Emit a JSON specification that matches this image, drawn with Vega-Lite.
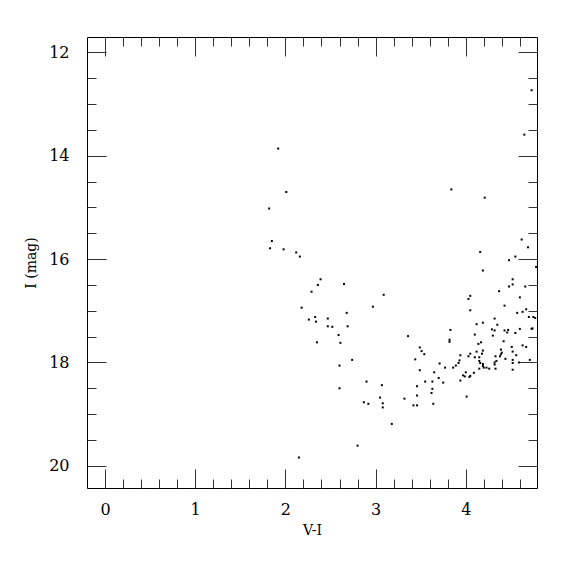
{
  "$schema": "https://vega.github.io/schema/vega-lite/v6.json",
  "width": 450,
  "height": 451,
  "autosize": {"type": "none"},
  "padding": {"left": 87, "top": 37, "right": 38, "bottom": 87},
  "background": "white",
  "config": {
    "view": {"stroke": "#000000", "strokeWidth": 1},
    "axis": {
      "labelFont": "DejaVu Serif",
      "titleFont": "DejaVu Serif",
      "labelColor": "#000000",
      "titleColor": "#000000",
      "tickColor": "#333333",
      "tickWidth": 1,
      "domain": false,
      "grid": false,
      "labelFontSize": 16,
      "titleFontSize": 14,
      "titleFontWeight": "normal"
    }
  },
  "datasets": {
    "stars": [
      {"vi": 1.92, "imag": 13.86}, {"vi": 2.01, "imag": 14.70}, {"vi": 1.82, "imag": 15.02}, {"vi": 1.85, "imag": 15.65},
      {"vi": 1.83, "imag": 15.79}, {"vi": 1.98, "imag": 15.81}, {"vi": 2.12, "imag": 15.87}, {"vi": 2.16, "imag": 15.95},
      {"vi": 2.39, "imag": 16.39}, {"vi": 2.36, "imag": 16.50}, {"vi": 2.65, "imag": 16.48}, {"vi": 2.29, "imag": 16.63},
      {"vi": 3.09, "imag": 16.69}, {"vi": 2.18, "imag": 16.94}, {"vi": 2.97, "imag": 16.92}, {"vi": 2.68, "imag": 17.04},
      {"vi": 2.33, "imag": 17.12}, {"vi": 2.26, "imag": 17.17}, {"vi": 2.34, "imag": 17.21}, {"vi": 2.47, "imag": 17.15},
      {"vi": 2.47, "imag": 17.30}, {"vi": 2.52, "imag": 17.31}, {"vi": 2.69, "imag": 17.30}, {"vi": 2.59, "imag": 17.47},
      {"vi": 3.36, "imag": 17.49}, {"vi": 2.35, "imag": 17.61}, {"vi": 2.61, "imag": 17.62}, {"vi": 2.74, "imag": 17.95},
      {"vi": 2.60, "imag": 18.06}, {"vi": 2.90, "imag": 18.37}, {"vi": 3.07, "imag": 18.44}, {"vi": 2.60, "imag": 18.50},
      {"vi": 3.05, "imag": 18.68}, {"vi": 3.32, "imag": 18.70}, {"vi": 2.87, "imag": 18.77}, {"vi": 2.92, "imag": 18.80},
      {"vi": 3.08, "imag": 18.79}, {"vi": 3.08, "imag": 18.87}, {"vi": 3.18, "imag": 19.19}, {"vi": 2.80, "imag": 19.61},
      {"vi": 2.15, "imag": 19.84},
      {"vi": 4.73, "imag": 12.73}, {"vi": 4.65, "imag": 13.59}, {"vi": 3.84, "imag": 14.65}, {"vi": 4.21, "imag": 14.81},
      {"vi": 4.62, "imag": 15.62}, {"vi": 4.69, "imag": 15.77}, {"vi": 4.16, "imag": 15.86}, {"vi": 4.55, "imag": 15.95},
      {"vi": 4.48, "imag": 16.02}, {"vi": 4.78, "imag": 16.15}, {"vi": 4.19, "imag": 16.22}, {"vi": 4.52, "imag": 16.39},
      {"vi": 4.52, "imag": 16.49}, {"vi": 4.48, "imag": 16.53}, {"vi": 4.66, "imag": 16.53}, {"vi": 4.37, "imag": 16.62},
      {"vi": 4.05, "imag": 16.71}, {"vi": 4.03, "imag": 16.77}, {"vi": 4.60, "imag": 16.74}, {"vi": 4.43, "imag": 16.90},
      {"vi": 4.05, "imag": 16.99}, {"vi": 4.57, "imag": 17.04}, {"vi": 4.63, "imag": 17.02}, {"vi": 4.67, "imag": 16.97},
      {"vi": 4.70, "imag": 17.12}, {"vi": 4.75, "imag": 17.12}, {"vi": 4.77, "imag": 17.14}, {"vi": 4.32, "imag": 17.15},
      {"vi": 4.12, "imag": 17.26}, {"vi": 4.19, "imag": 17.23}, {"vi": 4.35, "imag": 17.27}, {"vi": 3.83, "imag": 17.37},
      {"vi": 4.29, "imag": 17.36}, {"vi": 4.32, "imag": 17.38}, {"vi": 4.43, "imag": 17.38}, {"vi": 4.47, "imag": 17.37},
      {"vi": 4.46, "imag": 17.42}, {"vi": 4.60, "imag": 17.35}, {"vi": 4.73, "imag": 17.35}, {"vi": 4.74, "imag": 17.34},
      {"vi": 4.55, "imag": 17.43}, {"vi": 4.10, "imag": 17.46}, {"vi": 4.30, "imag": 17.48}, {"vi": 3.82, "imag": 17.56},
      {"vi": 3.82, "imag": 17.60}, {"vi": 4.17, "imag": 17.61}, {"vi": 4.14, "imag": 17.64}, {"vi": 4.42, "imag": 17.59},
      {"vi": 4.63, "imag": 17.67}, {"vi": 4.67, "imag": 17.70}, {"vi": 4.51, "imag": 17.70}, {"vi": 3.49, "imag": 17.71},
      {"vi": 3.51, "imag": 17.78}, {"vi": 3.54, "imag": 17.84}, {"vi": 4.05, "imag": 17.83}, {"vi": 4.12, "imag": 17.79},
      {"vi": 4.19, "imag": 17.77}, {"vi": 4.18, "imag": 17.83}, {"vi": 4.39, "imag": 17.75}, {"vi": 4.40, "imag": 17.81},
      {"vi": 4.39, "imag": 17.84}, {"vi": 4.52, "imag": 17.79}, {"vi": 4.56, "imag": 17.86}, {"vi": 3.94, "imag": 17.86},
      {"vi": 4.03, "imag": 17.88}, {"vi": 4.10, "imag": 17.90}, {"vi": 4.15, "imag": 17.90}, {"vi": 4.33, "imag": 17.88},
      {"vi": 4.38, "imag": 17.88}, {"vi": 3.44, "imag": 17.94}, {"vi": 3.93, "imag": 17.96}, {"vi": 4.15, "imag": 17.97},
      {"vi": 4.34, "imag": 17.97}, {"vi": 4.44, "imag": 17.93}, {"vi": 4.52, "imag": 17.95}, {"vi": 4.71, "imag": 17.95},
      {"vi": 4.16, "imag": 18.01}, {"vi": 4.19, "imag": 18.03}, {"vi": 4.19, "imag": 18.07}, {"vi": 4.32, "imag": 18.00},
      {"vi": 4.32, "imag": 18.04}, {"vi": 4.52, "imag": 18.01}, {"vi": 4.59, "imag": 18.00}, {"vi": 3.92, "imag": 18.01},
      {"vi": 3.71, "imag": 18.02}, {"vi": 3.77, "imag": 18.10}, {"vi": 3.86, "imag": 18.10}, {"vi": 3.89, "imag": 18.06},
      {"vi": 4.15, "imag": 18.12}, {"vi": 4.20, "imag": 18.10}, {"vi": 4.23, "imag": 18.10}, {"vi": 4.26, "imag": 18.12},
      {"vi": 4.33, "imag": 18.12}, {"vi": 3.49, "imag": 18.15}, {"vi": 3.65, "imag": 18.19}, {"vi": 4.00, "imag": 18.19},
      {"vi": 3.97, "imag": 18.25}, {"vi": 4.04, "imag": 18.28}, {"vi": 4.05, "imag": 18.26}, {"vi": 3.99, "imag": 18.27},
      {"vi": 4.09, "imag": 18.20}, {"vi": 4.52, "imag": 18.14}, {"vi": 3.70, "imag": 18.30}, {"vi": 3.63, "imag": 18.37},
      {"vi": 3.94, "imag": 18.35}, {"vi": 3.55, "imag": 18.37}, {"vi": 3.75, "imag": 18.39}, {"vi": 3.46, "imag": 18.46},
      {"vi": 3.63, "imag": 18.51}, {"vi": 3.62, "imag": 18.59}, {"vi": 3.46, "imag": 18.64}, {"vi": 4.01, "imag": 18.66},
      {"vi": 3.42, "imag": 18.83}, {"vi": 3.46, "imag": 18.83}, {"vi": 3.64, "imag": 18.80}
    ]
  },
  "data": {"name": "stars"},
  "resolve": {"axis": {"x": "independent", "y": "independent"}},
  "layer": [
    {
      "mark": {"type": "point", "shape": "square", "filled": true, "size": 4, "color": "#000000", "opacity": 1},
      "encoding": {
        "x": {"field": "vi", "type": "quantitative", "scale": {"domain": [-0.2, 4.79], "nice": false, "zero": false},
              "axis": {"orient": "bottom", "values": [0, 1, 2, 3, 4], "tickSize": -19, "labelPadding": 32, "title": "V-I", "titlePadding": 6}},
        "y": {"field": "imag", "type": "quantitative", "scale": {"domain": [11.7, 20.43], "nice": false, "zero": false, "reverse": true},
              "axis": {"orient": "left", "values": [12, 14, 16, 18, 20], "tickSize": -19, "labelPadding": 37, "title": "I (mag)", "titlePadding": 10}}
      }
    },
    {
      "mark": {"type": "point", "opacity": 0},
      "encoding": {
        "x": {"field": "vi", "type": "quantitative",
              "axis": {"orient": "bottom", "values": [0.2, 0.4, 0.6, 0.8, 1.2, 1.4, 1.6, 1.8, 2.2, 2.4, 2.6, 2.8, 3.2, 3.4, 3.6, 3.8, 4.2, 4.4, 4.6], "tickSize": -9, "labels": false, "title": null}},
        "y": {"field": "imag", "type": "quantitative",
              "axis": {"orient": "left", "values": [12.5, 13, 13.5, 14.5, 15, 15.5, 16.5, 17, 17.5, 18.5, 19, 19.5], "tickSize": -9, "labels": false, "title": null}}
      }
    },
    {
      "mark": {"type": "point", "opacity": 0},
      "encoding": {
        "x": {"field": "vi", "type": "quantitative",
              "axis": {"orient": "top", "values": [0, 1, 2, 3, 4], "tickSize": -19, "labels": false, "title": null}},
        "y": {"field": "imag", "type": "quantitative",
              "axis": {"orient": "right", "values": [12, 14, 16, 18, 20], "tickSize": -19, "labels": false, "title": null}}
      }
    },
    {
      "mark": {"type": "point", "opacity": 0},
      "encoding": {
        "x": {"field": "vi", "type": "quantitative",
              "axis": {"orient": "top", "values": [0.2, 0.4, 0.6, 0.8, 1.2, 1.4, 1.6, 1.8, 2.2, 2.4, 2.6, 2.8, 3.2, 3.4, 3.6, 3.8, 4.2, 4.4, 4.6], "tickSize": -9, "labels": false, "title": null}},
        "y": {"field": "imag", "type": "quantitative",
              "axis": {"orient": "right", "values": [12.5, 13, 13.5, 14.5, 15, 15.5, 16.5, 17, 17.5, 18.5, 19, 19.5], "tickSize": -9, "labels": false, "title": null}}
      }
    }
  ]
}
